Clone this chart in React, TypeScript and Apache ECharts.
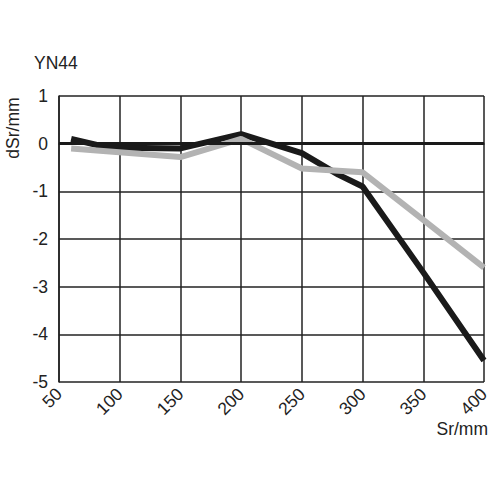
import React, { useEffect, useRef } from "react";
import * as echarts from "echarts";

const blackX = [60, 90, 150, 200, 250, 280, 300, 350, 400];
const blackY = [0.1, -0.08, -0.1, 0.2, -0.2, -0.65, -0.9, -2.7, -4.55];
const grayX = [60, 150, 200, 250, 300, 350, 400];
const grayY = [-0.1, -0.28, 0.1, -0.52, -0.6, -1.6, -2.6];

const title = "YN44";
const yName = "dSr/mm";
const xName = "Sr/mm";

const FONT = "'Liberation Sans', Arial, sans-serif";

export default function App() {
  const ref = useRef<HTMLDivElement>(null);
  useEffect(() => {
    if (!ref.current) return;
    const chart = echarts.init(ref.current, null, { renderer: "svg" });
    chart.setOption({
      animation: false,
      backgroundColor: "#ffffff",
      grid: { left: 59, right: 16, top: 96, bottom: 118 },
      xAxis: {
        type: "value",
        min: 50,
        max: 400,
        interval: 50,
        axisLine: { show: true, lineStyle: { color: "#222", width: 1.5 } },
        axisTick: { show: false },
        splitLine: { show: true, lineStyle: { color: "#222", width: 1.5 } },
        axisLabel: {
          rotate: 45,
          fontSize: 17.5,
          color: "#222",
          fontFamily: FONT,
          margin: 9,
        },
      },
      yAxis: {
        type: "value",
        min: -5,
        max: 1,
        interval: 1,
        axisLine: { show: true, lineStyle: { color: "#222", width: 1.5 } },
        axisTick: { show: false },
        splitLine: { show: true, lineStyle: { color: "#222", width: 1.5 } },
        axisLabel: { fontSize: 17.5, color: "#222", fontFamily: FONT, margin: 11 },
      },
      graphic: [
        {
          type: "text",
          left: 34,
          top: 54,
          style: { text: title, fontSize: 17.5, fill: "#222", fontFamily: FONT },
        },
        {
          type: "text",
          x: 13,
          y: 128,
          rotation: Math.PI / 2,
          style: {
            text: yName,
            fontSize: 17.5,
            fill: "#222",
            fontFamily: FONT,
            align: "center",
            verticalAlign: "middle",
          },
        },
        {
          type: "text",
          right: 12,
          top: 420,
          style: { text: xName, fontSize: 17.5, fill: "#222", fontFamily: FONT },
        },
      ],
      series: [
        {
          type: "line",
          data: blackX.map((x, i) => [x, blackY[i]]),
          showSymbol: false,
          lineStyle: { color: "#1a1a1a", width: 6 },
          markLine: {
            silent: true,
            symbol: "none",
            label: { show: false },
            lineStyle: { color: "#1a1a1a", width: 3, type: "solid" },
            data: [{ yAxis: 0 }],
          },
        },
        {
          type: "line",
          data: grayX.map((x, i) => [x, grayY[i]]),
          showSymbol: false,
          lineStyle: { color: "#b3b3b3", width: 6 },
        },
      ],
    });
    return () => chart.dispose();
  }, []);
  return (
    <div
      ref={ref}
      style={{ position: "fixed", left: 0, top: 0, width: 500, height: 500 }}
    />
  );
}
